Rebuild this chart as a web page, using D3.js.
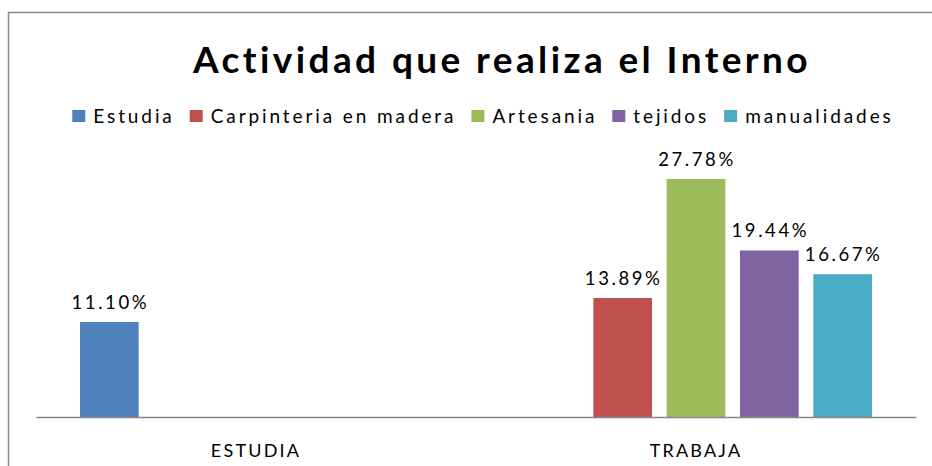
<!DOCTYPE html>
<html>
<head>
<meta charset="utf-8">
<script src="https://cdn.jsdelivr.net/npm/d3@7"></script>
<style>
  body { margin: 0; background: #fff; }
  svg text { font-family: Lato, "Liberation Sans", Arial, sans-serif; fill: #000; }
</style>
</head>
<body>
<script>
//Width and height
var w = 932;
var h = 466;

//Chart data
var categories = ["ESTUDIA", "TRABAJA"];
var seriesNames = ["Estudia", "Carpinteria en madera", "Artesania", "tejidos", "manualidades"];
var estudia = [11.10, null];
var carpinteria = [null, 13.89];
var artesania = [null, 27.78];
var tejidos = [null, 19.44];
var manualidades = [null, 16.67];
var colors = ["#4F81BD", "#C0504D", "#9BBB59", "#8064A2", "#4BACC6"];

var seriesValues = [estudia, carpinteria, artesania, tejidos, manualidades];

//Plot area
var plotLeft = 36, plotRight = 916, plotTop = 160, plotBottom = 417;

var svg = d3.select("body").append("svg").attr("width", w).attr("height", h);

//Outer chart border (runs off the right and bottom edge)
svg.append("rect")
  .attr("x", 8.5).attr("y", 12.5)
  .attr("width", w).attr("height", h)
  .attr("fill", "none")
  .attr("stroke", "#8a8a8a")
  .attr("stroke-width", 1.5);

//Scales
var x0 = d3.scaleBand().domain(categories).range([plotLeft, plotRight]).paddingInner(0.2).paddingOuter(0.1);
var x1 = d3.scaleBand().domain(seriesNames).range([0, x0.bandwidth()]).paddingInner(0.2);
var yScale = d3.scaleLinear().domain([0, 30]).range([plotBottom, plotTop]);

//Flatten to bars, skipping blanks
var bars = [];
categories.forEach(function (c, i) {
  seriesNames.forEach(function (s, j) {
    var v = seriesValues[j][i];
    if (v != null) bars.push({ cat: c, series: s, value: v, color: colors[j] });
  });
});

svg.append("g")
  .selectAll("rect")
  .data(bars)
  .enter()
  .append("rect")
  .attr("x", function (d) { return x0(d.cat) + x1(d.series); })
  .attr("y", function (d) { return yScale(d.value); })
  .attr("width", x1.bandwidth())
  .attr("height", function (d) { return yScale(0) - yScale(d.value); })
  .attr("fill", function (d) { return d.color; });

//Data labels
svg.append("g")
  .selectAll("text")
  .data(bars)
  .enter()
  .append("text")
  .attr("x", function (d) { return x0(d.cat) + x1(d.series) + x1.bandwidth() / 2 + 1; })
  .attr("y", function (d) { return yScale(d.value) - 13; })
  .attr("text-anchor", "middle")
  .style("font-size", "18.5px")
  .style("letter-spacing", "2.6px")
  .text(function (d) { return d.value.toFixed(2) + "%"; });

//X axis
var xAxis = d3.axisBottom(x0).tickSize(0).tickSizeOuter(0);
var gx = svg.append("g")
  .attr("transform", "translate(0," + plotBottom + ")")
  .call(xAxis);
gx.select(".domain").attr("stroke", "#868686").attr("stroke-width", 1.5);
gx.selectAll("text")
  .attr("y", 40)
  .attr("dy", 0)
  .style("font-family", "Lato, 'Liberation Sans', Arial, sans-serif")
  .style("font-size", "18px")
  .style("letter-spacing", "2.2px")
  .attr("fill", "#000");

//Title
svg.append("text")
  .attr("x", 502)
  .attr("y", 73)
  .attr("text-anchor", "middle")
  .style("font-size", "37px")
  .style("font-weight", "bold")
  .style("letter-spacing", "3.4px")
  .text("Actividad que realiza el Interno");

//Legend, laid out left to right and centred
var legend = svg.append("g");
var items = legend.selectAll("g")
  .data(seriesNames)
  .enter()
  .append("g");

items.append("rect")
  .attr("y", 110)
  .attr("width", 13)
  .attr("height", 12)
  .attr("fill", function (d, i) { return colors[i]; });

items.append("text")
  .attr("x", 21)
  .attr("y", 123)
  .style("font-size", "19px")
  .style("letter-spacing", "2.9px")
  .text(function (d) { return d; });

var pos = 0;
items.each(function () {
  var g = d3.select(this);
  g.attr("transform", "translate(" + pos + ",0)");
  pos += 21 + g.select("text").node().getComputedTextLength() + 15;
});
var legendWidth = pos - 15;
legend.attr("transform", "translate(" + (483 - legendWidth / 2) + ",0)");
</script>
</body>
</html>
